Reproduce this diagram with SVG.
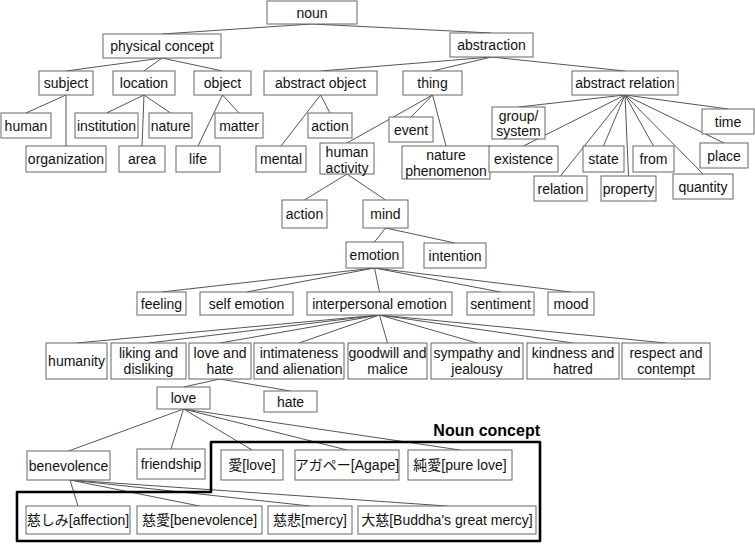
<svg xmlns="http://www.w3.org/2000/svg" width="755" height="545" viewBox="0 0 755 545">
<style>
.n rect{fill:#fff;stroke:#666;stroke-width:1}
text{font-family:"Liberation Sans","Noto Sans CJK JP",Arial,sans-serif;font-size:14px;text-anchor:middle;fill:#111}
#links line{stroke:#555;stroke-width:1}
.outline{fill:none;stroke:#000;stroke-width:2.6;stroke-linejoin:round}
.title{font-weight:bold;font-size:16px;text-anchor:end;fill:#000}
</style>
<rect width="755" height="545" fill="#fff"/>
<g id="links">
<line x1="312" y1="24" x2="162" y2="34"/><line x1="312" y1="24" x2="491.5" y2="33"/>
<line x1="162" y1="58" x2="66" y2="71"/><line x1="162" y1="58" x2="144" y2="71"/><line x1="162" y1="58" x2="222.5" y2="71"/>
<line x1="491.5" y1="57" x2="320.5" y2="71"/><line x1="491.5" y1="57" x2="432.5" y2="71"/><line x1="491.5" y1="57" x2="625" y2="71"/>
<line x1="66" y1="95" x2="26" y2="113"/><line x1="66" y1="95" x2="66" y2="146"/>
<line x1="144" y1="95" x2="106.5" y2="113"/><line x1="144" y1="95" x2="142" y2="146"/><line x1="144" y1="95" x2="170.5" y2="113"/>
<line x1="222.5" y1="95" x2="239" y2="113"/><line x1="222.5" y1="95" x2="198" y2="146"/>
<line x1="320.5" y1="95" x2="330" y2="113"/><line x1="320.5" y1="95" x2="281" y2="146"/>
<line x1="432.5" y1="95" x2="411" y2="117"/><line x1="432.5" y1="95" x2="347" y2="143"/><line x1="432.5" y1="95" x2="446" y2="146"/>
<line x1="625" y1="95" x2="518.5" y2="107"/><line x1="625" y1="95" x2="523.5" y2="146"/><line x1="625" y1="95" x2="560.5" y2="176"/><line x1="625" y1="95" x2="603.5" y2="146"/><line x1="625" y1="95" x2="628.5" y2="176"/><line x1="625" y1="95" x2="653.5" y2="146"/><line x1="625" y1="95" x2="703" y2="174"/><line x1="625" y1="95" x2="724" y2="143"/><line x1="625" y1="95" x2="728" y2="109"/>
<line x1="347" y1="174" x2="304.5" y2="200"/><line x1="347" y1="174" x2="385.5" y2="200"/>
<line x1="385.5" y1="228" x2="374.5" y2="242"/><line x1="385.5" y1="228" x2="455" y2="243"/>
<line x1="374.5" y1="268" x2="161.5" y2="292"/><line x1="374.5" y1="268" x2="246.5" y2="292"/><line x1="374.5" y1="268" x2="379.5" y2="292"/><line x1="374.5" y1="268" x2="500.5" y2="292"/><line x1="374.5" y1="268" x2="571" y2="292"/>
<line x1="379.5" y1="315" x2="76.5" y2="343"/><line x1="379.5" y1="315" x2="148.5" y2="343"/><line x1="379.5" y1="315" x2="220" y2="343"/><line x1="379.5" y1="315" x2="299" y2="343"/><line x1="379.5" y1="315" x2="387.5" y2="343"/><line x1="379.5" y1="315" x2="477" y2="343"/><line x1="379.5" y1="315" x2="573" y2="343"/><line x1="379.5" y1="315" x2="666" y2="343"/>
<line x1="220" y1="379" x2="183.5" y2="387"/><line x1="220" y1="379" x2="290.5" y2="391"/>
<line x1="183.5" y1="409" x2="68.5" y2="451"/><line x1="183.5" y1="409" x2="171" y2="449"/><line x1="183.5" y1="409" x2="252" y2="450"/><line x1="183.5" y1="409" x2="347" y2="450"/><line x1="183.5" y1="409" x2="460" y2="450"/>
<line x1="70" y1="480" x2="78" y2="506"/><line x1="70" y1="480" x2="199.5" y2="506"/><line x1="70" y1="480" x2="310" y2="506"/><line x1="70" y1="480" x2="447" y2="506"/>
</g>
<g id="noun" class="n"><rect x="267" y="1" width="90" height="23"/><text x="312" y="17.5">noun</text></g>
<g id="physical-concept" class="n"><rect x="103" y="34" width="118" height="24"/><text x="162" y="51">physical concept</text></g>
<g id="abstraction" class="n"><rect x="450" y="33" width="83" height="24"/><text x="491.5" y="50">abstraction</text></g>
<g id="subject" class="n"><rect x="39" y="71" width="54" height="24"/><text x="66" y="88">subject</text></g>
<g id="location" class="n"><rect x="113" y="71" width="62" height="24"/><text x="144" y="88">location</text></g>
<g id="object" class="n"><rect x="194" y="71" width="57" height="24"/><text x="222.5" y="88">object</text></g>
<g id="abstract-object" class="n"><rect x="264" y="71" width="113" height="24"/><text x="320.5" y="88">abstract object</text></g>
<g id="thing" class="n"><rect x="403" y="71" width="59" height="24"/><text x="432.5" y="88">thing</text></g>
<g id="abstract-relation" class="n"><rect x="572" y="71" width="106" height="24"/><text x="625" y="88">abstract relation</text></g>
<g id="human" class="n"><rect x="1" y="113" width="50" height="25"/><text x="26" y="130.5">human</text></g>
<g id="institution" class="n"><rect x="75" y="113" width="63" height="25"/><text x="106.5" y="130.5">institution</text></g>
<g id="nature" class="n"><rect x="149" y="113" width="43" height="25"/><text x="170.5" y="130.5">nature</text></g>
<g id="matter" class="n"><rect x="215" y="113" width="48" height="25"/><text x="239" y="130.5">matter</text></g>
<g id="organization" class="n"><rect x="26" y="146" width="80" height="26"/><text x="66" y="164">organization</text></g>
<g id="area" class="n"><rect x="119" y="146" width="46" height="26"/><text x="142" y="164">area</text></g>
<g id="life" class="n"><rect x="176" y="146" width="44" height="26"/><text x="198" y="164">life</text></g>
<g id="action-1" class="n"><rect x="308" y="113" width="44" height="25"/><text x="330" y="130.5">action</text></g>
<g id="mental" class="n"><rect x="256" y="146" width="50" height="26"/><text x="281" y="164">mental</text></g>
<g id="event" class="n"><rect x="389" y="117" width="44" height="25"/><text x="411" y="134.5">event</text></g>
<g id="human-activity" class="n"><rect x="320" y="143" width="54" height="31"/><text x="347" y="157">human</text><text x="347" y="173">activity</text></g>
<g id="nature-phenomenon" class="n"><rect x="402" y="146" width="88" height="33"/><text x="446" y="160">nature</text><text x="446" y="176">phenomenon</text></g>
<g id="group-system" class="n"><rect x="492" y="107" width="53" height="32"/><text x="518.5" y="121">group/</text><text x="518.5" y="136">system</text></g>
<g id="time" class="n"><rect x="702" y="109" width="52" height="25"/><text x="728" y="126.5">time</text></g>
<g id="existence" class="n"><rect x="489" y="146" width="69" height="26"/><text x="523.5" y="164">existence</text></g>
<g id="state" class="n"><rect x="583" y="146" width="41" height="26"/><text x="603.5" y="164">state</text></g>
<g id="from" class="n"><rect x="633" y="146" width="41" height="26"/><text x="653.5" y="164">from</text></g>
<g id="place" class="n"><rect x="700" y="143" width="48" height="25"/><text x="724" y="160.5">place</text></g>
<g id="relation" class="n"><rect x="534" y="176" width="53" height="25"/><text x="560.5" y="193.5">relation</text></g>
<g id="property" class="n"><rect x="601" y="176" width="55" height="25"/><text x="628.5" y="193.5">property</text></g>
<g id="quantity" class="n"><rect x="673" y="174" width="60" height="25"/><text x="703" y="191.5">quantity</text></g>
<g id="action-2" class="n"><rect x="282" y="200" width="45" height="28"/><text x="304.5" y="219">action</text></g>
<g id="mind" class="n"><rect x="363" y="200" width="45" height="28"/><text x="385.5" y="219">mind</text></g>
<g id="emotion" class="n"><rect x="346" y="242" width="57" height="26"/><text x="374.5" y="260">emotion</text></g>
<g id="intention" class="n"><rect x="424" y="243" width="62" height="25"/><text x="455" y="260.5">intention</text></g>
<g id="feeling" class="n"><rect x="137" y="292" width="49" height="23"/><text x="161.5" y="308.5">feeling</text></g>
<g id="self-emotion" class="n"><rect x="200" y="292" width="93" height="23"/><text x="246.5" y="308.5">self emotion</text></g>
<g id="interpersonal-emotion" class="n"><rect x="307" y="292" width="145" height="23"/><text x="379.5" y="308.5">interpersonal emotion</text></g>
<g id="sentiment" class="n"><rect x="467" y="292" width="67" height="23"/><text x="500.5" y="308.5">sentiment</text></g>
<g id="mood" class="n"><rect x="548" y="292" width="46" height="23"/><text x="571" y="308.5">mood</text></g>
<g id="humanity" class="n"><rect x="46" y="343" width="61" height="36"/><text x="76.5" y="366">humanity</text></g>
<g id="liking-and-disliking" class="n"><rect x="111" y="343" width="75" height="36"/><text x="148.5" y="358">liking and</text><text x="148.5" y="374">disliking</text></g>
<g id="love-and-hate" class="n"><rect x="189" y="343" width="62" height="36"/><text x="220" y="358">love and</text><text x="220" y="374">hate</text></g>
<g id="intimateness-and-alienation" class="n"><rect x="254" y="343" width="90" height="36"/><text x="299" y="358">intimateness</text><text x="299" y="374">and alienation</text></g>
<g id="goodwill-and-malice" class="n"><rect x="348" y="343" width="79" height="36"/><text x="387.5" y="358">goodwill and</text><text x="387.5" y="374">malice</text></g>
<g id="sympathy-and-jealousy" class="n"><rect x="431" y="343" width="92" height="36"/><text x="477" y="358">sympathy and</text><text x="477" y="374">jealousy</text></g>
<g id="kindness-and-hatred" class="n"><rect x="527" y="343" width="92" height="36"/><text x="573" y="358">kindness and</text><text x="573" y="374">hatred</text></g>
<g id="respect-and-contempt" class="n"><rect x="622" y="343" width="88" height="36"/><text x="666" y="358">respect and</text><text x="666" y="374">contempt</text></g>
<g id="love" class="n"><rect x="157" y="387" width="53" height="22"/><text x="183.5" y="403">love</text></g>
<g id="hate" class="n"><rect x="264" y="391" width="53" height="21"/><text x="290.5" y="406.5">hate</text></g>
<g id="benevolence" class="n"><rect x="27" y="451" width="83" height="29"/><text x="68.5" y="470.5">benevolence</text></g>
<g id="friendship" class="n"><rect x="137" y="449" width="68" height="30"/><text x="171" y="469">friendship</text></g>
<g id="ai-love" class="n"><rect x="221" y="450" width="62" height="30"/><text x="252" y="470">愛[love]</text></g>
<g id="agape" class="n"><rect x="295" y="450" width="104" height="30"/><text x="347" y="470">アガペー[Agape]</text></g>
<g id="pure-love" class="n"><rect x="408" y="450" width="104" height="30"/><text x="460" y="470">純愛[pure love]</text></g>
<g id="affection" class="n"><rect x="26" y="506" width="104" height="28"/><text x="78" y="525">慈しみ[affection]</text></g>
<g id="jiai-benevolence" class="n"><rect x="137" y="506" width="125" height="28"/><text x="199.5" y="525">慈愛[benevolence]</text></g>
<g id="mercy" class="n"><rect x="268" y="506" width="84" height="28"/><text x="310" y="525">慈悲[mercy]</text></g>
<g id="great-mercy" class="n"><rect x="358" y="506" width="178" height="28"/><text x="447" y="525">大慈[Buddha's great mercy]</text></g>
<g id="noun-concept">
<path class="outline" d="M211,442 H540 V541 H17 V492 H211 Z"/>
<text class="title" x="540" y="436">Noun concept</text>
</g>
</svg>
